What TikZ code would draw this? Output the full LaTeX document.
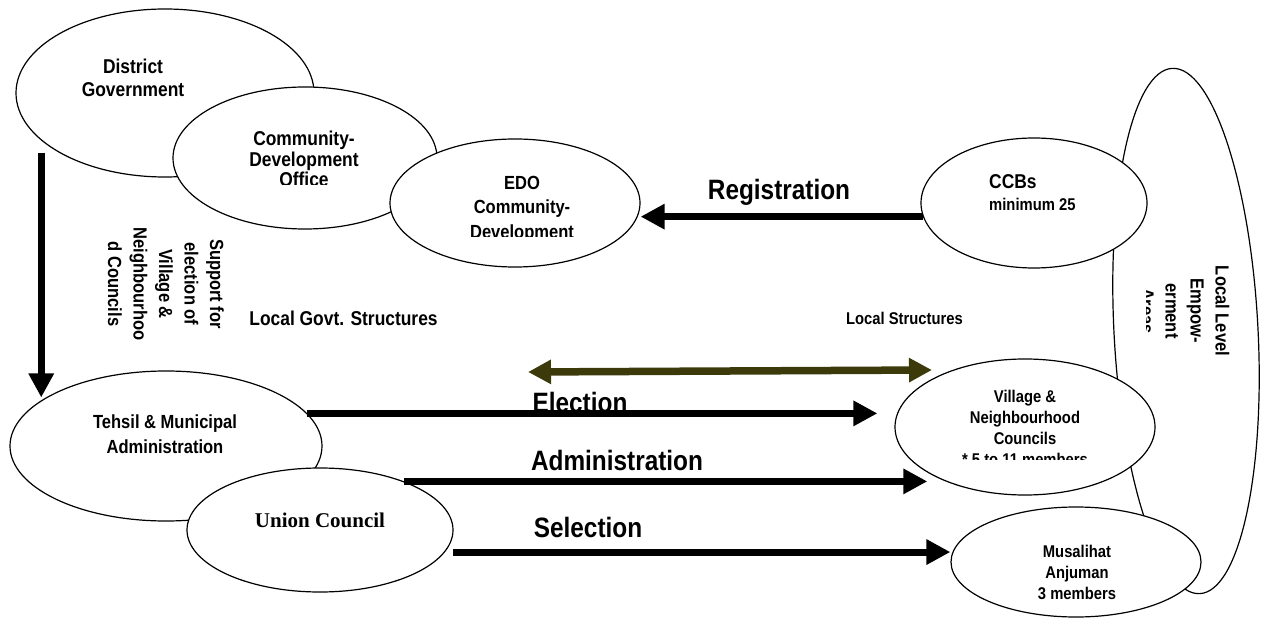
\documentclass[tikz,border=0pt]{standalone}
\usepackage{fontspec}
\usepackage{xcolor}
\usepackage{tikz}
\usetikzlibrary{arrows.meta,shapes.geometric,calc}
\newfontfamily\arl[FakeStretch=0.87]{Liberation Sans}
\newfontfamily\tms{Liberation Serif}
\definecolor{olivearrow}{RGB}{60,58,10}

\begin{document}
\begin{tikzpicture}[x=1pt,y=-1pt,
  oval/.style={ellipse,draw,fill=white,line width=1.2pt,inner sep=0pt},
  txt/.style={font=\arl\bfseries,align=center,inner sep=0pt},
  fs/.style 2 args={font=\arl\bfseries\fontsize{#1}{#2}\selectfont},
  fat/.style={-{Triangle[length=24pt,width=24pt]},line width=7pt},
  twin/.style={{Triangle[length=23pt,width=23pt]}-{Triangle[length=23pt,width=23pt]},line width=7.5pt,olivearrow}]
  \useasboundingbox (0,0) rectangle (1261,620);
  \node[oval,minimum width=298,minimum height=168] (DG) at (165,93) {};
  \node[txt,fs={20}{23}] (DGt) at (133,78) {District\\Government};
  \node[oval,minimum width=264,minimum height=142] (CDO) at (305,158) {};
  \begin{scope}
    \clip (0,0) rectangle (1261,185);
    \node[txt,fs={20}{20.5}] (CDOt) at (304,159.2) {Community-\\Development\\Office};
  \end{scope}
  \node[oval,minimum width=250,minimum height=128] (EDO) at (515,203) {};
  \begin{scope}
    \clip (0,0) rectangle (1261,236.5);
    \node[txt,fs={19}{24.5}] (EDOt) at (522,209) {EDO\\Community-\\Development};
  \end{scope}
  \node[oval,minimum width=144,minimum height=526,rotate=3] (LLE) at (1186,331) {};
  \begin{scope}
    \clip (1146,0) rectangle (1261,620);
    \node[txt,fs={19}{25},rotate=-90] (LLEt) at (1185,311) {Local Level\\Empow-\\erment\\Areas};
  \end{scope}
  \node[oval,minimum width=226,minimum height=130] (CCB) at (1034,203) {};
  \node[txt,align=left,fs={20}{22},anchor=north west] (CCBt) at (989,174.5) {CCBs\\{\fontsize{17}{22}\selectfont minimum 25}};
  \node[oval,minimum width=260,minimum height=136] (VN) at (1025,427) {};
  \begin{scope}
    \clip (0,0) rectangle (1261,459);
    \node[txt,fs={17}{21}] (VNt) at (1025,428) {Village \&\\Neighbourhood\\Councils\\* 5 to 11 members};
  \end{scope}
  \node[oval,minimum width=250,minimum height=110] (MA) at (1076,562) {};
  \node[txt,fs={17}{21}] (MAt) at (1077,572) {Musalihat\\Anjuman\\3 members};
  \node[oval,minimum width=312,minimum height=150] (TM) at (166,446) {};
  \node[txt,fs={19}{25}] (TMt) at (165,434) {Tehsil \& Municipal\\Administration};
  \node[oval,minimum width=266,minimum height=124] (UC) at (320,530) {};
  \node[font=\tms\bfseries\fontsize{21}{24}\selectfont,inner sep=0pt,anchor=base] (UCt) at (320,527) {Union Council};
  \node[txt,fs={19}{25.5},rotate=-90] (sup) at (166,284) {Support for\\election of\\Village \&\\Neighbourhoo\\d Councils};
  \node[txt,fs={20}{24},anchor=base] (lgs) at (343.5,326) {Local Govt. Structures};
  \node[txt,fs={17}{22},anchor=base east] (ls) at (963,325) {Local Structures};
  \coordinate (ve1) at (528,372);
  \coordinate (ve2) at (932,370);
  \draw[twin] (ve1) -- (ve2);
  \draw[fat,shorten <=12pt,shorten >=3pt] (DG.201) -- (DG.201 |- TM.160);
  \draw[fat] (CCB.187) -- (CCB.187 -| EDO.east);
  \draw[fat,shorten >=17pt] (TM.13) -- (TM.13 -| VN.west);
  \draw[fat] (UC.30) -- (UC.30 -| VN.205);
  \draw[fat,shorten <=8pt] (UC.-10) -- (UC.-10 -| MA.west);
  \node[txt,fs={28}{32},anchor=base] (reg) at (779,200) {Registration};
  \node[txt,fs={28}{32},anchor=base] (ele) at (580,412) {Election};
  \node[txt,fs={28}{32},anchor=base] (adm) at (617,470) {Administration};
  \node[txt,fs={28}{32},anchor=base] (sel) at (588,537) {Selection};
\end{tikzpicture}
\end{document}
